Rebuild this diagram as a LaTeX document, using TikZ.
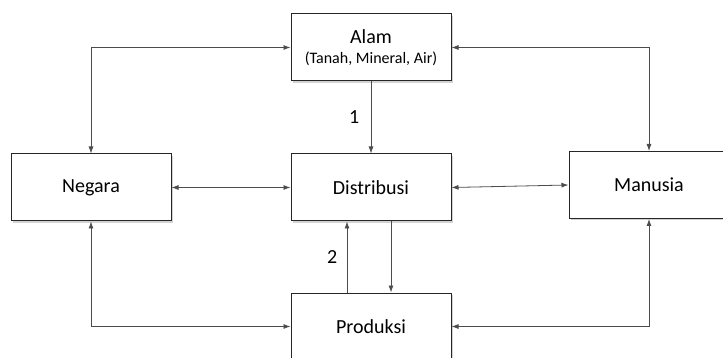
\documentclass[tikz,border=0pt]{standalone}
\usepackage{fontspec}
\setmainfont{Carlito}
\usetikzlibrary{arrows.meta,shadows}

\begin{document}
\begin{tikzpicture}[x=1pt,y=-1pt,
	kotak/.style={draw=black!85,line width=1pt,fill=white,minimum width=160pt,minimum height=67pt,inner sep=0pt,align=center,font=\fontsize{20}{20}\selectfont,drop shadow={shadow xshift=2pt,shadow yshift=-2pt,opacity=0.35}},
	panah/.style={{Latex[length=7pt,width=5pt]}-{Latex[length=7pt,width=5pt]},draw=black!70,line width=0.8pt},
	satu/.style={-{Latex[length=7pt,width=5pt]},draw=black!70,line width=0.8pt}]
			\clip (0,0) rectangle (723,358);
			\def\geser{24pt}
			
			\node[kotak] (alam) at (371,47.5) {Alam\\{\fontsize{16}{16}\selectfont(Tanah, Mineral, Air)}};
			\node[kotak] (dist) at (371,187.5) {Distribusi};
			\node[kotak] (negara) at (91,187.5) {Negara};
			\node[kotak] (manusia) at (649,185) {Manusia};
			\node[kotak] (prod) at (371,326.5) {Produksi};
			
			\draw[panah] (negara.north) |- (alam.west);
			\draw[panah] (manusia.north) |- (alam.east);
			\draw[satu] (alam.south) -- node[left=8pt,font=\fontsize{20}{20}\selectfont] (l1) {1} (dist.north);
			\draw[panah] (negara.east) -- (dist.west);
			\draw[panah] (dist.east) -- (manusia.west);
			\draw[satu] ([xshift=-\geser]prod.north) -- node[left=6pt,font=\fontsize{20}{20}\selectfont] (l2) {2} ([xshift=-\geser]dist.south);
			\draw[satu] ([xshift=20pt]dist.south) -- ([xshift=20pt]prod.north);
			\draw[panah] (negara.south) |- (prod.west);
			\draw[panah] (manusia.south) |- (prod.east);

		\end{tikzpicture}
\end{document}
